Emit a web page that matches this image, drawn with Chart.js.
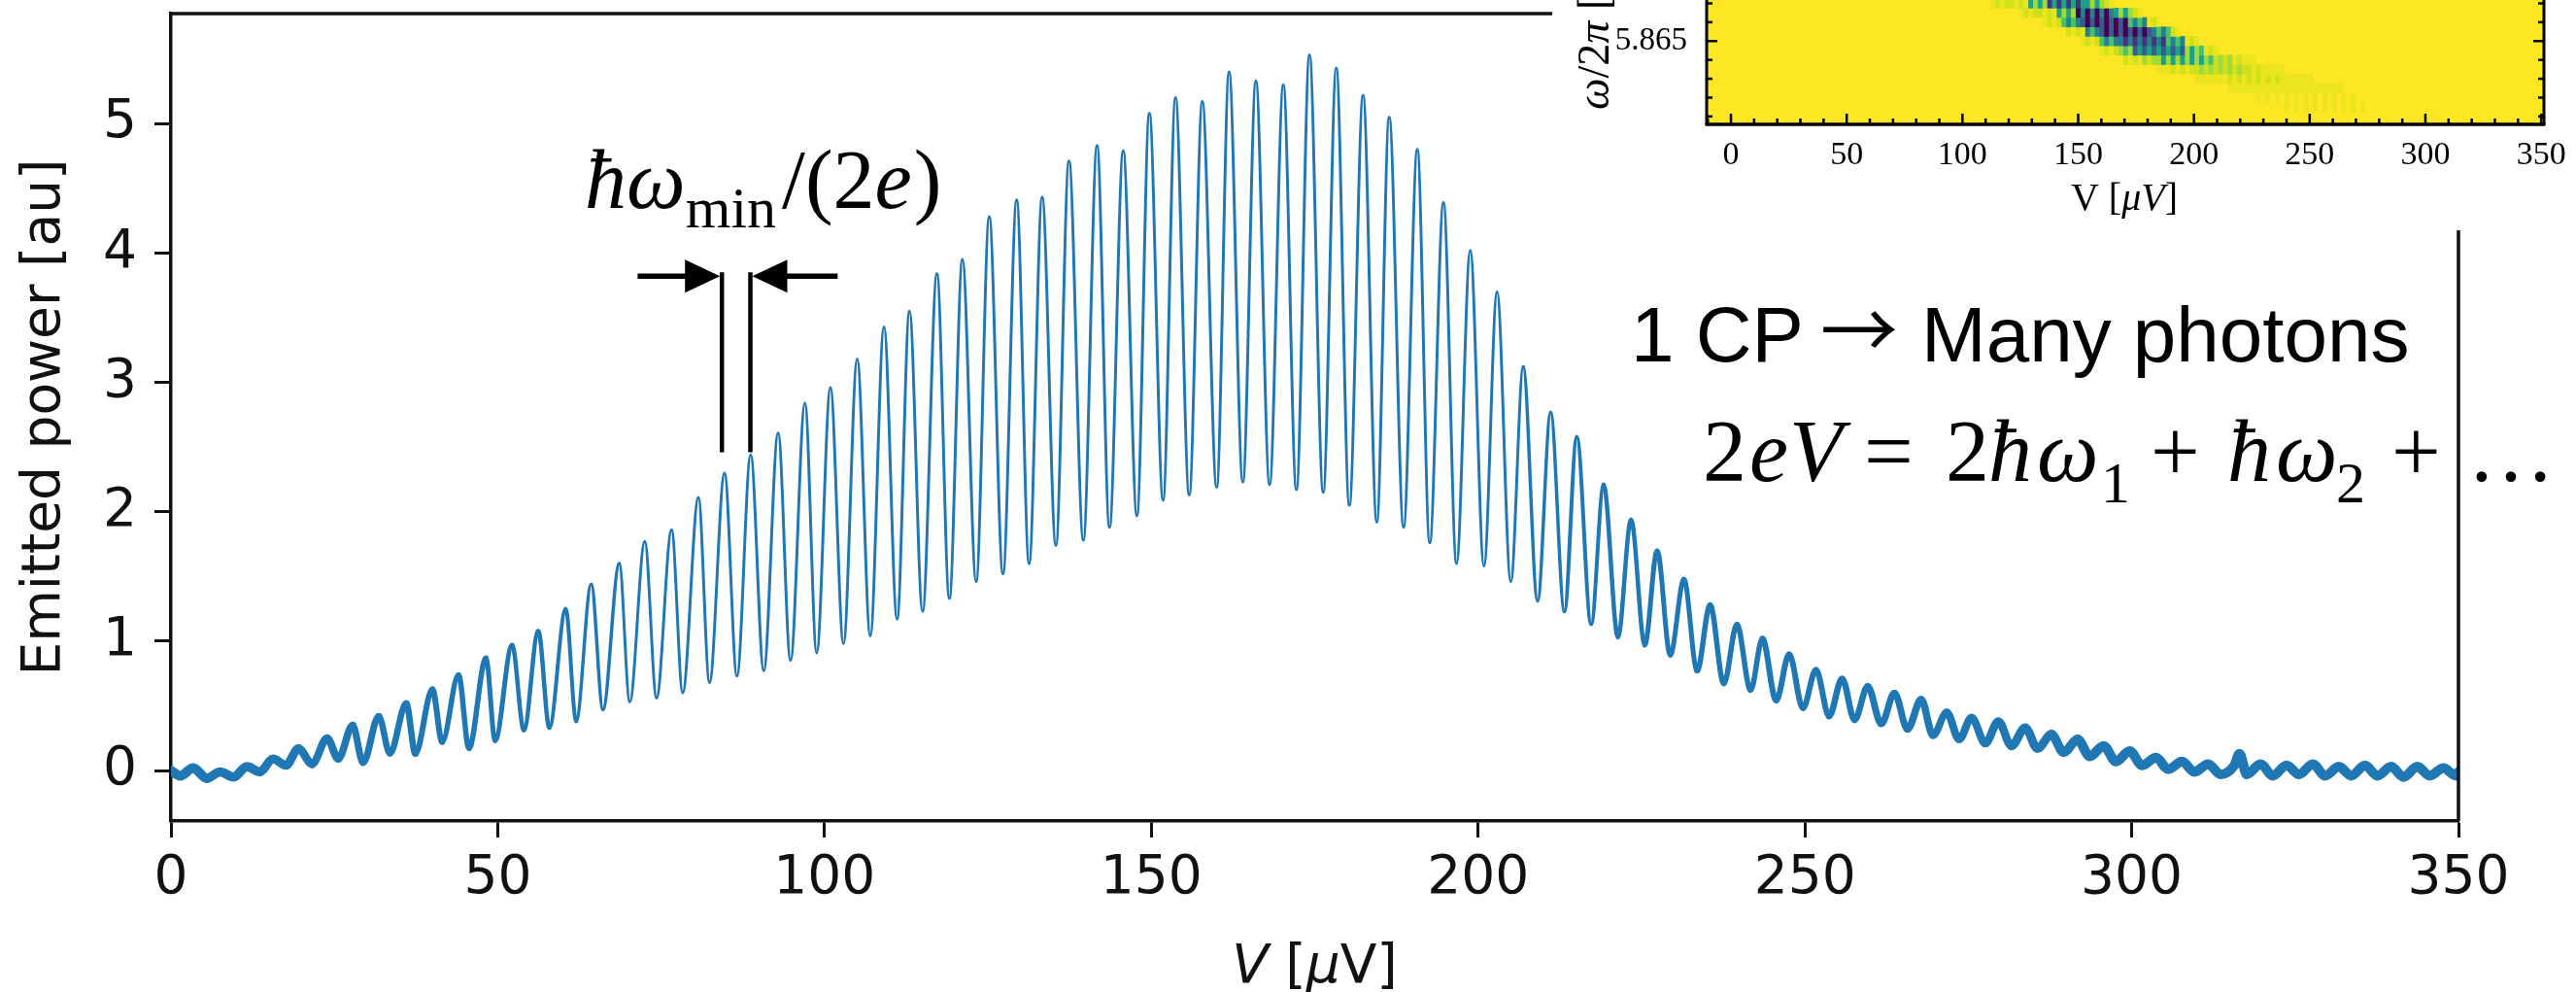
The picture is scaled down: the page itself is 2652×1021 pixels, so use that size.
<!DOCTYPE html>
<html><head><meta charset="utf-8">
<script src="https://cdn.jsdelivr.net/npm/chart.js@4.4.1/dist/chart.umd.min.js"></script>
<style>
html,body{margin:0;padding:0;background:#fff;}
#wrap{position:relative;width:2652px;height:1021px;overflow:hidden;background:#fff;}
#main{position:absolute;left:0;top:0;}
#insetBox{position:absolute;left:1598px;top:0;width:1054px;height:237px;background:#fff;}
#inset{position:absolute;left:0;top:0;}
</style></head><body>
<div id="wrap">
<canvas id="main" width="2652" height="1021"></canvas>
<div id="insetBox"><canvas id="inset" width="1054" height="237"></canvas></div>
</div>
<script>
// ---------------- main trace data (V in µV, emitted power in au) ----------------
const headV = [0.0, 1.4, 3.4, 5.5, 7.5, 9.6, 11.6, 13.6, 15.6, 17.6];
const headP = [0.0, -0.04, 0.02, -0.06, -0.01, -0.05, 0.03, -0.01, 0.09, 0.04];

const peakV = [19.5, 23.9, 27.8, 31.8, 36.0, 40.0, 44.0, 48.2, 52.2, 56.2, 60.4, 64.3, 68.6, 72.5, 76.6, 80.7, 84.7, 88.7, 92.9, 97.0,
  100.9, 105.0, 109.1, 113.0, 117.2, 121.1, 125.2, 129.4, 133.3, 137.4, 141.7, 145.7, 149.7, 153.7, 157.8, 161.9, 166.0, 170.2, 174.2, 178.3,
  182.4, 186.4, 190.7, 194.7, 198.8, 202.9, 206.9, 211.1, 215.1, 219.2, 223.4, 227.4, 231.5, 235.5, 239.6, 243.5, 247.6, 251.7, 255.7, 259.6,
  263.7, 267.8, 271.7, 275.5, 279.6, 283.7];
const peakP = [0.17, 0.25, 0.35, 0.42, 0.52, 0.63, 0.74, 0.87, 0.97, 1.08, 1.25, 1.44, 1.60, 1.77, 1.86, 2.11, 2.30, 2.44, 2.61, 2.84,
  2.96, 3.18, 3.43, 3.55, 3.84, 3.95, 4.28, 4.41, 4.43, 4.71, 4.83, 4.79, 5.08, 5.20, 5.17, 5.40, 5.33, 5.30, 5.53, 5.43,
  5.22, 5.05, 4.80, 4.39, 4.02, 3.70, 3.12, 2.77, 2.58, 2.21, 1.94, 1.70, 1.48, 1.28, 1.13, 1.02, 0.90, 0.78, 0.71, 0.65,
  0.60, 0.55, 0.45, 0.41, 0.38, 0.33];

const troughV = [21.6, 25.6, 29.4, 33.5, 37.4, 41.5, 45.6, 49.6, 54.0, 57.9, 62.0, 66.1, 70.2, 74.3, 78.3, 82.4, 86.6, 90.7, 94.8, 98.8,
  102.9, 107.0, 111.1, 115.0, 119.1, 123.2, 127.3, 131.3, 135.4, 139.6, 143.6, 147.8, 151.8, 155.8, 160.0, 164.0, 168.1, 172.2, 176.3, 180.3,
  184.5, 188.6, 192.6, 196.7, 200.9, 205.0, 209.1, 213.2, 217.3, 221.4, 225.5, 229.4, 233.5, 237.6, 241.7, 245.6, 249.7, 253.7, 257.6, 261.7,
  265.7, 269.6, 273.6, 277.6, 281.6];
const troughP = [0.05, 0.09, 0.06, 0.13, 0.13, 0.22, 0.17, 0.23, 0.31, 0.33, 0.38, 0.47, 0.53, 0.56, 0.60, 0.68, 0.73, 0.77, 0.85, 0.91,
  0.98, 1.04, 1.17, 1.23, 1.33, 1.46, 1.52, 1.60, 1.74, 1.78, 1.88, 1.97, 2.09, 2.13, 2.19, 2.23, 2.21, 2.17, 2.15, 2.05,
  1.92, 1.88, 1.76, 1.60, 1.58, 1.46, 1.31, 1.23, 1.13, 1.03, 0.97, 0.89, 0.77, 0.67, 0.62, 0.54, 0.48, 0.42, 0.39, 0.36,
  0.32, 0.27, 0.24, 0.21, 0.19];

const tailV = [285.6, 287.7, 289.6, 291.7, 293.6, 295.7, 297.6, 299.7, 301.6, 303.7, 305.6, 307.7, 309.6, 311.7, 313.6, 315.7, 316.5,
  317.6, 319.7, 321.6, 323.7, 325.6, 327.7, 329.6, 331.7, 333.6, 335.7, 337.6, 339.7, 341.6, 343.7, 345.6, 347.7, 349.6, 350.0];
const tailP = [0.17, 0.28, 0.14, 0.24, 0.11, 0.19, 0.07, 0.15, 0.04, 0.10, 0.01, 0.07, -0.01, 0.05, -0.03, 0.04, 0.13,
  -0.03, 0.05, -0.04, 0.04, -0.03, 0.05, -0.04, 0.03, -0.04, 0.04, -0.04, 0.03, -0.05, 0.03, -0.04, 0.02, -0.04, -0.01];

const xTicks = [0, 50, 100, 150, 200, 250, 300, 350];
const yTicks = [0, 1, 2, 3, 4, 5];

// annotation anchors (data units)
const markerV = [84.3, 88.65];
const markerTop = 3.85, markerBottom = 2.46;
const arrowY = 3.82;
const arrowLeft = [71.4, 84.0];   // tail, tip
const arrowRight = [102.0, 88.95];

// ---------------- inset heatmap data ----------------
const heatF = [5.8670, 5.8665, 5.8660, 5.8655, 5.8650, 5.8645, 5.8640, 5.8635, 5.8630, 5.8625, 5.8620, 5.8615];
const heatCol0 = 100.9, heatDV = 2.05;   // column grid (µV)
const heatStart = [6, 12, 17, 22, 25, 29, 34, 41, 49, 56, 61, 68];
const heatBand = [
  "87877878464614141414464678",
  "87877878464603030303464678",
  "878753532020202020535387",
  "787835320202020202353578",
  "8787535331313131315353878",
  "8787656242424242426465878",
  "7878676646464646465767687888",
  "888787877676767676778788888",
  "8888888787878787878888888",
  "888888888888888888888888",
  "98989898989898989898989",
  "898989898989898989"
];
const viridis = ['#440154','#46327e','#365c8d','#277f8e','#1fa187','#4ac16d','#a0da39','#d0e11c','#ebe41f','#fde725'];
const insetXLabels = [0, 50, 100, 150, 200, 250, 300, 350];
const insetXMinor = [-10,0,10,20,30,40,50,60,70,80,90,100,110,120,130,140,150,160,170,180,190,200,210,220,230,240,250,260,270,280,290,300,310,320,330,340,350];
const insetYMinor = [5.861, 5.862, 5.863, 5.864, 5.865, 5.866, 5.867];
const insetYMajor = [5.865];

// ---------------- styles ----------------
const ribbonV = [0, 18, 30, 50, 70, 205, 228, 250, 275, 295, 350];
const ribbonW = [10, 9, 7, 5, 3, 3, 5, 6, 8, 10, 10];
function ribbonWidth(v){
  for (let i=1;i<ribbonV.length;i++){
    if (v<=ribbonV[i]){const t=(v-ribbonV[i-1])/(ribbonV[i]-ribbonV[i-1]);return Math.round((ribbonW[i-1]+t*(ribbonW[i]-ribbonW[i-1]))*2)/2;}
  }
  return ribbonW[ribbonW.length-1];
}
const INK = '#111';
const SANS = "'DejaVu Sans'";
const serif = "'Liberation Serif'";

const pts = [];
headV.forEach((v,i)=>pts.push({x:v,y:headP[i]}));
peakV.forEach((v,i)=>pts.push({x:v,y:peakP[i]}));
troughV.forEach((v,i)=>pts.push({x:v,y:troughP[i]}));
tailV.forEach((v,i)=>pts.push({x:v,y:tailP[i]}));
pts.sort((a,b)=>a.x-b.x);

function drawPieces(ctx, pieces, x0, base){
  let x = x0;
  ctx.textBaseline = 'alphabetic'; ctx.textAlign = 'left';
  for (const p of pieces){
    ctx.font = p.f;
    if (p.x !== undefined) x = p.x;
    ctx.fillText(p.t, x, base + (p.dy||0));
    x += ctx.measureText(p.t).width + (p.gap||0);
  }
  return x;
}
function piecesWidth(ctx, pieces){
  let w=0; for(const p of pieces){ctx.font=p.f; w+=ctx.measureText(p.t).width+(p.gap||0);} return w;
}
function arrow(ctx, xTail, xTip, yy){
  const dir = Math.sign(xTip - xTail), head = 36, half = 17;
  ctx.beginPath(); ctx.lineWidth = 5.5;
  ctx.moveTo(xTail, yy); ctx.lineTo(xTip - dir*head*0.9, yy); ctx.stroke();
  ctx.beginPath();
  ctx.moveTo(xTip, yy); ctx.lineTo(xTip - dir*head, yy - half); ctx.lineTo(xTip - dir*head, yy + half); ctx.closePath(); ctx.fill();
}

const mainDeco = {
  id: 'mainDeco',
  afterDatasetsDraw(chart){
    const {ctx, chartArea:a, scales:{x,y}} = chart;
    ctx.save();
    ctx.strokeStyle = INK; ctx.lineWidth = 3.5;
    ctx.beginPath(); ctx.moveTo(a.left, a.top); ctx.lineTo(a.right, a.top); ctx.lineTo(a.right, a.bottom); ctx.stroke();
    ctx.strokeStyle = '#000'; ctx.fillStyle = '#000'; ctx.lineWidth = 4.5;
    markerV.forEach(v=>{const px=x.getPixelForValue(v);ctx.beginPath();ctx.moveTo(px,y.getPixelForValue(markerTop));ctx.lineTo(px,y.getPixelForValue(markerBottom));ctx.stroke();});
    const ay = y.getPixelForValue(arrowY);
    arrow(ctx, x.getPixelForValue(arrowLeft[0]), x.getPixelForValue(arrowLeft[1]), ay);
    arrow(ctx, x.getPixelForValue(arrowRight[0]), x.getPixelForValue(arrowRight[1]), ay);
    ctx.restore();
  },
  afterDraw(chart){
    const {ctx} = chart;
    ctx.save(); ctx.fillStyle = '#000';
    drawPieces(ctx, [
      {t:'ħω', f:`italic 86px ${serif}`},
      {t:'min', f:`60px ${serif}`, dy:20, gap:6},
      {t:'/(2', f:`86px ${serif}`},
      {t:'e', f:`italic 86px ${serif}`, gap:2},
      {t:')', f:`86px ${serif}`}
    ], 602, 214);
    drawPieces(ctx, [
      {t:'1 CP', f:"80px 'Liberation Sans'", x:1679},
      {t:'→', f:"80px 'Noto Sans CJK SC'", x:1874, dy:-3},
      {t:'Many photons', f:"80px 'Liberation Sans'", x:1978}
    ], 1679, 372);
    const F = `90px ${serif}`, FI = `italic 90px ${serif}`, FS = `60px ${serif}`;
    drawPieces(ctx, [
      {t:'2', f:F, x:1753}, {t:'e', f:FI, x:1801}, {t:'V', f:FI, x:1842},
      {t:'=', f:F, x:1919}, {t:'2', f:F, x:2003}, {t:'ħ', f:FI, x:2047}, {t:'ω', f:FI, x:2097},
      {t:'1', f:FS, x:2163, dy:22}, {t:'+', f:F, x:2214}, {t:'ħ', f:FI, x:2293}, {t:'ω', f:FI, x:2343},
      {t:'2', f:FS, x:2405, dy:22}, {t:'+', f:F, x:2462}, {t:'…', f:F, x:2540}
    ], 1753, 495);
    const xl = [
      {t:'V', f:`oblique 55px ${SANS}`}, {t:' [', f:`55px ${SANS}`}, {t:'μ', f:`oblique 55px ${SANS}`}, {t:'V]', f:`55px ${SANS}`}
    ];
    ctx.fillStyle = INK;
    const w = piecesWidth(ctx, xl);
    const cx = (chart.chartArea.left + chart.chartArea.right)/2;
    drawPieces(ctx, xl, cx - w/2, 1011);
    ctx.restore();
  }
};

new Chart(document.getElementById('main'), {
  type: 'line',
  data: { datasets: [{
    data: pts, borderColor: '#1f77b4', borderWidth: 3, pointRadius: 0,
    cubicInterpolationMode: 'monotone', borderJoinStyle: 'round', borderCapStyle: 'round',
    segment: { borderWidth: c => ribbonWidth((c.p0.parsed.x + c.p1.parsed.x)/2) }
  }]},
  options: {
    responsive: false, animation: false, devicePixelRatio: 1,
    layout: { padding: { top: 14, right: 121, left: 0, bottom: 0 } },
    plugins: { legend: {display:false}, tooltip: {enabled:false} },
    scales: {
      x: { type:'linear', min:0, max:350,
        afterBuildTicks: s => { s.ticks = xTicks.map(v=>({value:v})); },
        afterFit: s => { s.height = 176; s.paddingLeft = 0; s.paddingRight = 0; },
        ticks: { font:{family:'DejaVu Sans', size:55}, color:INK, padding:10, maxRotation:0, autoSkip:false },
        grid: { drawOnChartArea:false, drawTicks:true, tickLength:17, tickWidth:3, tickColor:INK },
        border: { display:true, width:3.5, color:INK } },
      y: { type:'linear', min:-0.39, max:5.85,
        afterBuildTicks: s => { s.ticks = yTicks.map(v=>({value:v})); },
        afterFit: s => { s.width = 176; s.paddingTop = 0; s.paddingBottom = 0; },
        ticks: { font:{family:'DejaVu Sans', size:55}, color:INK, padding:18, autoSkip:false },
        grid: { drawOnChartArea:false, drawTicks:true, tickLength:17, tickWidth:3, tickColor:INK },
        border: { display:true, width:3.5, color:INK },
        title: { display:true, text:'Emitted power [au]', font:{family:'DejaVu Sans', size:55}, color:INK, padding:{top:14,bottom:0} } }
    }
  },
  plugins: [mainDeco]
});

// ---------------- inset ----------------
const heatDatasets = heatBand.map((band, r) => ({
  data: band.split('').map((c, k) => ({ x: heatCol0 + (heatStart[r] + k) * heatDV, y: [heatF[r] - 0.00025, heatF[r] + 0.00025] })),
  backgroundColor: band.split('').map(c => viridis[+c]),
  borderWidth: 0, barPercentage: 1, categoryPercentage: 1, grouped: false
}));

const insetDeco = {
  id: 'insetDeco',
  beforeDatasetsDraw(chart){
    const {ctx, chartArea:a} = chart;
    ctx.save(); ctx.fillStyle = viridis[9]; ctx.fillRect(a.left, a.top, a.right-a.left, a.bottom-a.top); ctx.restore();
  },
  afterDatasetsDraw(chart){
    const {ctx, chartArea:a, scales:{x,y}} = chart;
    ctx.save();
    ctx.strokeStyle = '#000'; ctx.lineWidth = 2.5;
    const ln = (x0,y0,x1,y1)=>{ctx.beginPath();ctx.moveTo(x0,y0);ctx.lineTo(x1,y1);ctx.stroke();};
    insetXMinor.forEach(v=>{const px=x.getPixelForValue(v);const L=insetXLabels.includes(v)?11:6;ln(px,a.bottom,px,a.bottom-L);});
    insetYMinor.forEach(v=>{const py=y.getPixelForValue(v);const L=insetYMajor.includes(v)?11:6;ln(a.left,py,a.left+L,py);ln(a.right,py,a.right-L,py);});
    ctx.lineWidth = 3;
    ln(a.left, a.top, a.left, a.bottom); ln(a.right, a.top, a.right, a.bottom);
    ctx.lineWidth = 3.5; ln(a.left-1.5, a.bottom, a.right+1.5, a.bottom);
    ctx.restore();
  },
  afterDraw(chart){
    const {ctx} = chart;
    ctx.save(); ctx.fillStyle = '#000';
    const xl = [{t:'V [', f:`40px ${serif}`}, {t:'μV', f:`italic 40px ${serif}`}, {t:']', f:`40px ${serif}`}];
    const w = piecesWidth(ctx, xl);
    drawPieces(ctx, xl, 589 - w/2, 216);
    ctx.translate(58, 113); ctx.rotate(-Math.PI/2);
    drawPieces(ctx, [
      {t:'ω', f:`italic 46px ${serif}`}, {t:'/2', f:`46px ${serif}`}, {t:'π', f:`italic 46px ${serif}`}, {t:' [GHz]', f:`46px ${serif}`}
    ], 0, 0);
    ctx.restore();
  }
};

new Chart(document.getElementById('inset'), {
  type: 'bar',
  data: { datasets: heatDatasets },
  options: {
    responsive: false, animation: false, devicePixelRatio: 1,
    layout: { padding: { top: 0, right: 33, left: 0, bottom: 0 } },
    plugins: { legend: {display:false}, tooltip: {enabled:false} },
    scales: {
      x: { type:'linear', min:-10.5, max:351.2, offset:false,
        afterBuildTicks: s => { s.ticks = insetXLabels.map(v=>({value:v})); },
        afterFit: s => { s.height = 109; s.paddingLeft = 0; s.paddingRight = 0; },
        ticks: { font:{family:'Liberation Serif', size:34}, color:'#000', padding:4, maxRotation:0, autoSkip:false },
        grid: { display:false, offset:false }, border: { display:false } },
      y: { type:'linear', min:5.86058, max:5.86718,
        afterBuildTicks: s => { s.ticks = insetYMajor.map(v=>({value:v})); },
        afterFit: s => { s.width = 159; s.paddingTop = 0; s.paddingBottom = 0; },
        ticks: { font:{family:'Liberation Serif', size:33}, color:'#000', padding:12, autoSkip:false, callback: v => Number(v).toFixed(3) },
        grid: { display:false }, border: { display:false } }
    }
  },
  plugins: [insetDeco]
});
</script>
</body></html>
